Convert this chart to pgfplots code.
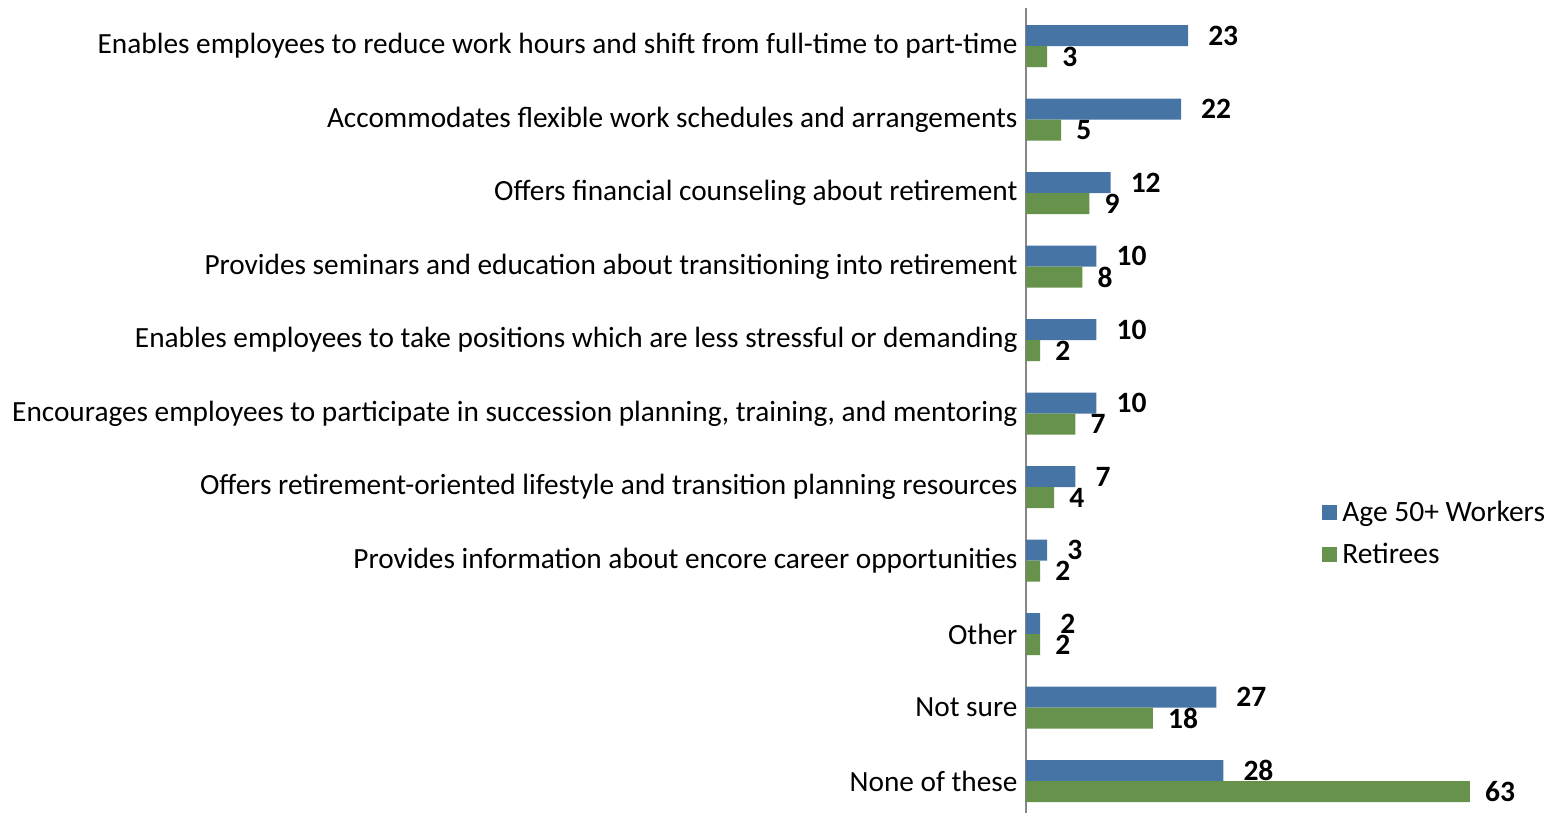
\documentclass[border=0pt]{standalone}
\usepackage{pgfplots}
\pgfplotsset{compat=1.18}
\usepackage{fontspec}
\setmainfont{Carlito}
\definecolor{cblue}{HTML}{4674A5}
\definecolor{cgreen}{HTML}{67924B}
\definecolor{axisgrey}{HTML}{868686}
\begin{document}
\begin{tikzpicture}
\begin{axis}[
 at={(0,0)}, anchor=south west,
 scale only axis, width=444pt, height=805pt,
 xbar, bar width=21pt,
 xmin=0, xmax=63,
 ymin=-0.517, ymax=10.433, y dir=reverse,
 axis x line=none, axis y line*=left,
 y axis line style={draw=axisgrey, line width=1.5pt},
 ytick={0,...,10},
 yticklabels={
  {Enables employees to reduce work hours and shift from full-time to part-time},
  {Accommodates flexible work schedules and arrangements},
  {Offers financial counseling about retirement},
  {Provides seminars and education about transitioning into retirement},
  {Enables employees to take positions which are less stressful or demanding},
  {Encourages employees to participate in succession planning, training, and mentoring},
  {Offers retirement-oriented lifestyle and transition planning resources},
  {Provides information about encore career opportunities},
  {Other},
  {Not sure},
  {None of these}},
 major tick length=0pt,
 yticklabel style={font=\fontsize{29.3}{35}\selectfont, text=black, xshift=-5pt},
 /pgf/number format/assume math mode=true,
 nodes near coords,
 every node near coord/.append style={font=\bfseries\fontsize{29.5}{35}\selectfont, text=black, anchor=west, inner xsep=0pt},
 clip=false,
 legend style={at={(0.667,0.391)}, anchor=north west, draw=none, fill=none,
   font=\fontsize{29.5}{35}\selectfont, row sep=14pt, inner sep=0pt,
   nodes={inner ysep=3pt, inner xsep=5pt}},
 legend cell align=left,
 legend image code/.code={\fill[#1] (0pt,-7.5pt) rectangle (15pt,7.5pt);},
]
\addplot[fill=cblue, draw=none, bar shift=10.5pt, every node near coord/.append style={xshift=20pt}]
 coordinates {(23,0) (22,1) (12,2) (10,3) (10,4) (10,5) (7,6) (3,7) (2,8) (27,9) (28,10)};
\addplot[fill=cgreen, draw=none, bar shift=-10.5pt, every node near coord/.append style={xshift=15pt}]
 coordinates {(3,0) (5,1) (9,2) (8,3) (2,4) (7,5) (4,6) (2,7) (2,8) (18,9) (63,10)};
\legend{Age 50+ Workers, Retirees}
\end{axis}
\pgfresetboundingbox
\path[use as bounding box] (-1026pt,0pt) rectangle (524pt,813pt);
\end{tikzpicture}
\end{document}
